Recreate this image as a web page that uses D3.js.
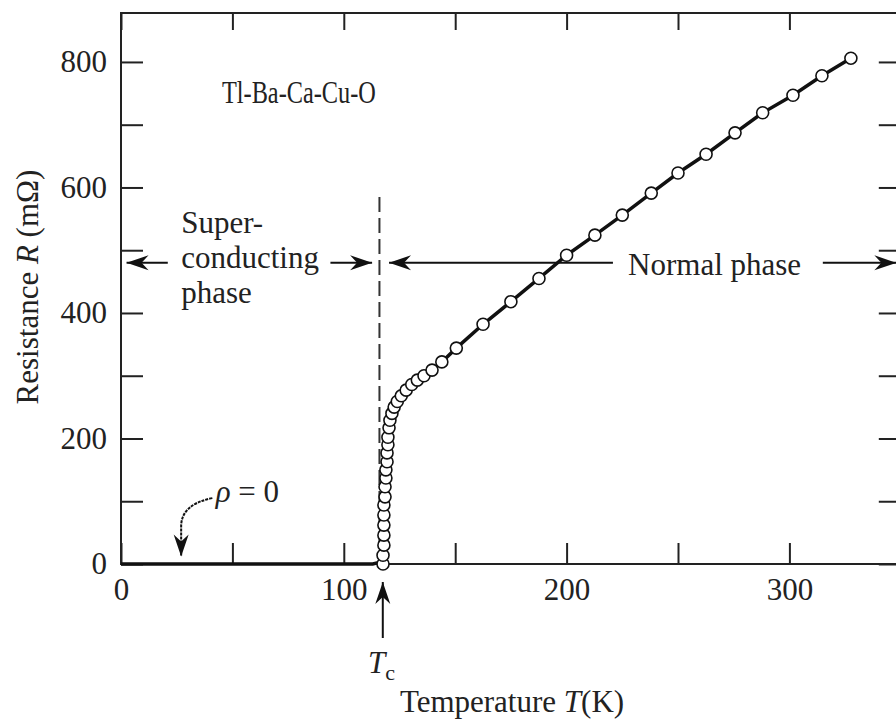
<!DOCTYPE html>
<html>
<head>
<meta charset="utf-8">
<script src="https://cdn.jsdelivr.net/npm/d3@7"></script>
<style>
  body { margin: 0; background: #fff; }
  svg { display: block; }
  text { font-family: "Liberation Serif", "DejaVu Serif", serif; fill: #222; }
</style>
</head>
<body>
<script>
// measured points, Tl-Ba-Ca-Cu-O resistance vs temperature
const tempK = [117.6, 117.6, 118.0, 118.0, 118.0, 118.0, 118.0, 118.5, 118.5, 118.9, 118.9,
  119.4, 119.4, 119.8, 119.8, 120.3, 120.7, 121.6, 122.6, 124.0, 125.8, 128.0, 130.5,
  133.0, 136.0, 139.6, 144.0, 150.5, 162.5, 175.0, 187.6, 200.0, 212.7, 225.0, 238.0,
  250.0, 262.6, 275.6, 288.0, 301.6, 314.6, 327.6]
const resistance = [0, 14, 30, 46, 62, 78, 94, 107, 123, 137, 150,
  163, 177, 190, 202, 217, 229, 240, 250, 259, 268, 277, 286,
  293, 300, 309, 322, 344, 382, 418, 455, 492, 524, 556, 591,
  623, 653, 687, 719, 747, 778, 806]
// zero-resistance stretch below Tc (line only, no markers)
const flatT = [0, 113, 116.5]
const flatR = [0, 0, 3]

const xTicks = [0, 50, 100, 150, 200, 250, 300, 350]
const xLabels = [0, 100, 200, 300]
const yTicks = [0, 100, 200, 300, 400, 500, 600, 700, 800]
const yLabels = [0, 200, 400, 600, 800]

const tc = 116
const phaseR = 480

let width = 896
let height = 720

const x = d3.scaleLinear().domain([0, 350]).range([121, 900.8])
const y = d3.scaleLinear().domain([0, 878]).range([564, 13])

const svg = d3.select("body").append("svg")
    .attr("width", width)
    .attr("height", height)

// barbed arrow head
svg.append("defs").append("marker")
    .attr("id", "head")
    .attr("markerUnits", "userSpaceOnUse")
    .attr("viewBox", "-24 -8 26 16")
    .attr("refX", 0)
    .attr("refY", 0)
    .attr("markerWidth", 26)
    .attr("markerHeight", 16)
    .attr("orient", "auto")
  .append("path")
    .attr("d", "M0,0 L-22,-7.5 L-15,0 L-22,7.5 Z")
    .attr("fill", "#111")

// frame
svg.append("rect")
    .attr("x", x(0))
    .attr("y", y(878))
    .attr("width", x(350) - x(0))
    .attr("height", y(0) - y(878))
    .attr("fill", "none")
    .attr("stroke", "#222")
    .attr("stroke-width", 2)

const fontSize = 31

function styleAxis (g) {
  g.select(".domain").remove()
  g.selectAll(".tick line").attr("stroke", "#222").attr("stroke-width", 2)
  g.selectAll(".tick text")
      .attr("font-size", fontSize)
      .attr("font-family", "Liberation Serif")
      .attr("fill", "#222")
}

svg.append("g")
    .attr("transform", `translate(0,${y(0)})`)
    .call(d3.axisBottom(x).tickValues(xTicks).tickSize(-21).tickPadding(14)
      .tickFormat(d => xLabels.includes(d) ? d : ""))
    .call(styleAxis)

svg.append("g")
    .attr("transform", `translate(0,${y(878)})`)
    .call(d3.axisTop(x).tickValues(xTicks).tickSize(-17).tickFormat(""))
    .call(styleAxis)

svg.append("g")
    .attr("transform", `translate(${x(0)},0)`)
    .call(d3.axisLeft(y).tickValues(yTicks).tickSize(-22).tickPadding(14)
      .tickFormat(d => yLabels.includes(d) ? d : ""))
    .call(styleAxis)

svg.append("g")
    .attr("transform", `translate(${x(350)},0)`)
    .call(d3.axisRight(y).tickValues(yTicks).tickSize(-22).tickFormat(""))
    .call(styleAxis)

// axis titles
svg.append("text")
    .attr("x", 512)
    .attr("y", 712)
    .attr("text-anchor", "middle")
    .attr("font-size", fontSize)
    .html('Temperature <tspan font-style="italic">T</tspan>(K)')

svg.append("text")
    .attr("transform", "translate(38,287) rotate(-90)")
    .attr("text-anchor", "middle")
    .attr("font-size", fontSize)
    .html('Resistance <tspan font-style="italic">R</tspan> (mΩ)')

// Tc dashed marker
svg.append("line")
    .attr("x1", x(tc)).attr("x2", x(tc))
    .attr("y1", y(585)).attr("y2", y(0))
    .attr("stroke", "#333")
    .attr("stroke-width", 2)
    .attr("stroke-dasharray", "15,6")

// data line
let linePts = flatT.map((t, i) => [t, flatR[i]])
  .concat(tempK.map((t, i) => [t, resistance[i]]))

svg.append("path")
    .datum(linePts)
    .attr("fill", "none")
    .attr("stroke", "#111")
    .attr("stroke-width", 3.5)
    .attr("d", d3.line().x(d => x(d[0])).y(d => y(d[1])))

svg.append("g")
    .selectAll("circle")
    .data(tempK)
    .join("circle")
      .attr("cx", d => x(d))
      .attr("cy", (d, i) => y(resistance[i]))
      .attr("r", 6)
      .attr("fill", "#fff")
      .attr("stroke", "#111")
      .attr("stroke-width", 1.6)

// phase arrows
function arrow (t0, r0, t1, r1) {
  svg.append("line")
      .attr("x1", x(t0)).attr("y1", y(r0))
      .attr("x2", x(t1)).attr("y2", y(r1))
      .attr("stroke", "#111")
      .attr("stroke-width", 2)
      .attr("marker-end", "url(#head)")
}
arrow(21, phaseR, 2.5, phaseR)
arrow(94, phaseR, 112.7, phaseR)
arrow(220.8, phaseR, 120.3, phaseR)
arrow(315, phaseR, 348, phaseR)

// Tc arrow
svg.append("line")
    .attr("x1", x(117.5)).attr("y1", 638)
    .attr("x2", x(117.5)).attr("y2", 582)
    .attr("stroke", "#111")
    .attr("stroke-width", 2)
    .attr("marker-end", "url(#head)")

// rho = 0 curved arrow
svg.append("path")
    .attr("d", `M${x(41)},${y(105)} Q${x(27)},${y(95)} ${x(27)},${y(60)} L${x(27)},${y(12)}`)
    .attr("fill", "none")
    .attr("stroke", "#111")
    .attr("stroke-width", 2)
    .attr("stroke-dasharray", "3,1")
    .attr("marker-end", "url(#head)")

// labels
svg.append("text")
    .attr("x", x(45.3)).attr("y", y(735))
    .attr("font-size", fontSize)
    .attr("textLength", 154)
    .attr("lengthAdjust", "spacingAndGlyphs")
    .text("Tl-Ba-Ca-Cu-O")

const scLines = ["Super-", "conducting", "phase"]
svg.append("g")
    .selectAll("text")
    .data(scLines)
    .join("text")
      .attr("x", x(27))
      .attr("y", (d, i) => 233 + i * 35)
      .attr("font-size", fontSize)
      .text(d => d)

svg.append("text")
    .attr("x", x(227.6)).attr("y", 275)
    .attr("font-size", fontSize)
    .text("Normal phase")

svg.append("text")
    .attr("x", x(42.5)).attr("y", y(98))
    .attr("font-size", fontSize)
    .html('<tspan font-style="italic">ρ</tspan> = 0')

svg.append("text")
    .attr("x", 368).attr("y", 673)
    .attr("font-size", fontSize)
    .html('<tspan font-style="italic">T</tspan><tspan font-size="22" dy="7">c</tspan>')
</script>
</body>
</html>
